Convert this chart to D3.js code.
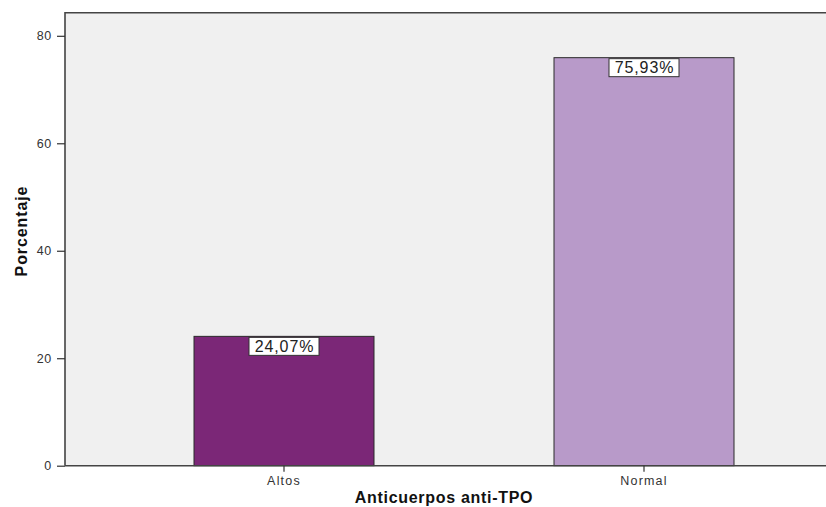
<!DOCTYPE html>
<html>
<head>
<meta charset="utf-8">
<script src="https://cdn.jsdelivr.net/npm/d3@7"></script>
<style>
  html, body { margin: 0; padding: 0; background: #ffffff; }
  svg { display: block; font-family: "Liberation Sans", Arial, sans-serif; }
</style>
</head>
<body>
<svg id="chart" width="826" height="507"></svg>
<script>
// Anti-TPO antibody levels, percentage of patients
const categories = ["Altos", "Normal"];
const percentages = [24.07, 75.93];
const valueLabels = ["24,07%", "75,93%"];
const yTicks = [0, 20, 40, 60, 80];
const barColors = ["#7b2777", "#b89ac9"];

const svg = d3.select("#chart");
const W = 826, H = 507;
const plot = { left: 65, top: 12.7, right: 840, bottom: 465.7 };

const y = d3.scaleLinear().domain([0, 84.3]).range([plot.bottom, plot.top]);
const x = d3.scaleBand()
  .domain(categories)
  .range([104, 824])
  .paddingInner(0.5)
  .paddingOuter(0.25);

// plot background
svg.append("rect")
  .attr("x", plot.left).attr("y", plot.top)
  .attr("width", plot.right - plot.left).attr("height", plot.bottom - plot.top)
  .attr("fill", "#f0f0f0");

// bars
svg.append("g").selectAll("rect")
  .data(categories)
  .join("rect")
  .attr("x", d => x(d))
  .attr("y", (d, i) => y(percentages[i]))
  .attr("width", x.bandwidth())
  .attr("height", (d, i) => y(0) - y(percentages[i]))
  .attr("fill", (d, i) => barColors[i])
  .attr("stroke", "#2a2a2a")
  .attr("stroke-width", 1);

// value labels in boxes just inside the top of each bar
const labels = svg.append("g").selectAll("g")
  .data(categories)
  .join("g")
  .attr("transform", (d, i) => `translate(${x(d) + x.bandwidth() / 2},${y(percentages[i])})`);

labels.append("rect")
  .attr("x", -35)
  .attr("y", 1)
  .attr("width", 70)
  .attr("height", 18)
  .attr("fill", "#ffffff")
  .attr("stroke", "#333")
  .attr("stroke-width", 1);

labels.append("text")
  .attr("text-anchor", "middle")
  .attr("x", 0.5)
  .attr("y", 15.8)
  .attr("font-size", 16)
  .attr("letter-spacing", "0.9px")
  .attr("fill", "#222")
  .text((d, i) => valueLabels[i]);

// plot frame (left and top edges visible; right edge runs past the view)
svg.append("path")
  .attr("d", `M${plot.left},${plot.bottom}V${plot.top}H${W + 5}`)
  .attr("fill", "none")
  .attr("stroke", "#444")
  .attr("stroke-width", 1.6);

// y axis
const yAxis = d3.axisLeft(y).tickValues(yTicks).tickSize(8).tickPadding(5);
const gy = svg.append("g").attr("transform", `translate(${plot.left},0)`).call(yAxis);
gy.select(".domain").remove();
gy.selectAll(".tick line").attr("stroke", "#333").attr("stroke-width", 1.2);
gy.selectAll(".tick text").attr("font-size", 12.5).attr("fill", "#333")
  .attr("letter-spacing", "0.7px");

// x axis
const xAxis = d3.axisBottom(x).tickSize(6).tickPadding(4);
const gx = svg.append("g").attr("transform", `translate(0,${plot.bottom})`).call(xAxis);
gx.select(".domain")
  .attr("d", `M${plot.left},0H${W + 5}`)
  .attr("stroke", "#444").attr("stroke-width", 1.6);
gx.selectAll(".tick line").attr("stroke", "#333").attr("stroke-width", 1.2);
gx.selectAll(".tick text").attr("font-size", 12.5).attr("fill", "#333")
  .attr("letter-spacing", "1.2px");

// axis titles
svg.append("text")
  .attr("transform", `translate(27,231) rotate(-90)`)
  .attr("text-anchor", "middle")
  .attr("font-size", 16)
  .attr("font-weight", "bold")
  .attr("letter-spacing", "0.9px")
  .attr("fill", "#111")
  .text("Porcentaje");

svg.append("text")
  .attr("x", 444)
  .attr("y", 503)
  .attr("text-anchor", "middle")
  .attr("font-size", 16)
  .attr("font-weight", "bold")
  .attr("letter-spacing", "0.7px")
  .attr("fill", "#111")
  .text("Anticuerpos anti-TPO");
</script>
</body>
</html>
